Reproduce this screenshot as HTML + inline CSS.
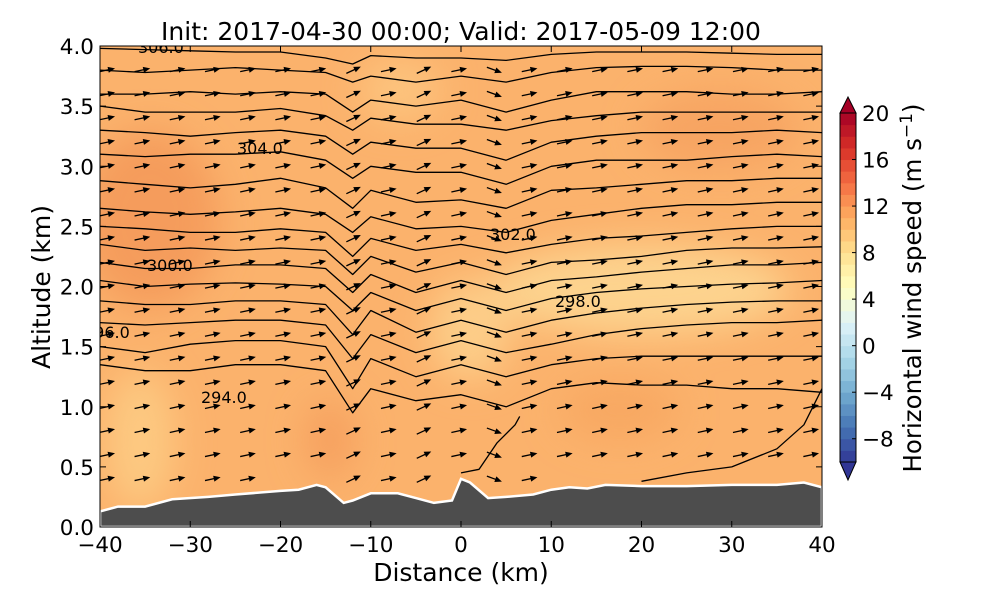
<!DOCTYPE html>
<html><head><meta charset="utf-8"><style>
body{margin:0;background:#fff;font-family:"DejaVu Sans","Liberation Sans",sans-serif}
svg text{font-family:"DejaVu Sans","Liberation Sans",sans-serif}
</style></head><body>
<svg width="1000" height="600" viewBox="0 0 1000 600" xmlns="http://www.w3.org/2000/svg">
<defs>
<clipPath id="pc"><rect x="100" y="46" width="722" height="481"/></clipPath>
<filter id="bl" x="-50%" y="-50%" width="200%" height="200%"><feGaussianBlur stdDeviation="18"/></filter>
</defs>
<g id="plot" clip-path="url(#pc)">
<rect x="100" y="46" width="722" height="481" fill="#fbb26c"/>
<g filter="url(#bl)">
<ellipse cx="150" cy="220" rx="70" ry="90" fill="#f59c5c"/>
<ellipse cx="720" cy="130" rx="80" ry="40" fill="#f7a462"/>
<ellipse cx="640" cy="290" rx="150" ry="45" fill="#fdd38e"/>
<ellipse cx="470" cy="330" rx="40" ry="50" fill="#fdcd88"/>
<ellipse cx="140" cy="440" rx="35" ry="70" fill="#fdc981"/>
<ellipse cx="330" cy="440" rx="25" ry="40" fill="#f6a05e"/>
<ellipse cx="620" cy="410" rx="60" ry="30" fill="#f8a862"/>
<ellipse cx="400" cy="90" rx="40" ry="30" fill="#fdc47e"/>
</g>
<g id="contours"></g>
<g id="arrows"></g>
<path id="terrain" fill="#4d4d4d" stroke="#fff" stroke-width="2.5"/>
<g font-size="16" fill="#000">
<text x="138" y="53">306.0</text>
<text x="237" y="154">304.0</text>
<text x="490" y="240">302.0</text>
<text x="147" y="271">300.0</text>
<text x="555" y="307">298.0</text>
<text x="84" y="338">296.0</text>
<text x="201" y="403">294.0</text>
</g>
</g>
<rect x="100" y="46" width="722" height="481" fill="none" stroke="#000" stroke-width="1"/>
<g id="axes" font-size="21.5" fill="#000"></g>
<text x="461" y="40" font-size="25" text-anchor="middle">Init: 2017-04-30 00:00; Valid: 2017-05-09 12:00</text>
<text x="461" y="581" font-size="25" text-anchor="middle">Distance (km)</text>
<text transform="translate(50,287) rotate(-90)" font-size="25" text-anchor="middle">Altitude (km)</text>
<g id="cbar"></g>
<text transform="translate(921,288) rotate(-90)" font-size="24.5" text-anchor="middle">Horizontal wind speed (m s<tspan dy="-9" font-size="17">−1</tspan><tspan dy="9">)</tspan></text>
</svg>
<script>
const NS="http://www.w3.org/2000/svg";
const xs=[-40,-35,-30,-25,-20,-15,-12,-10,-5,0,5,10,15,20,25,30,35,40];
const contourLevels=[
[3.98,3.97,3.96,3.95,3.95,3.9,3.85,3.92,3.9,3.9,3.88,3.93,3.95,3.95,3.95,3.94,3.93,3.93],
[3.8,3.78,3.8,3.82,3.8,3.78,3.7,3.75,3.7,3.75,3.7,3.78,3.82,3.83,3.83,3.82,3.8,3.8],
[3.6,3.6,3.62,3.6,3.62,3.6,3.45,3.55,3.5,3.55,3.45,3.55,3.62,3.62,3.62,3.6,3.6,3.62],
[3.5,3.45,3.45,3.45,3.48,3.42,3.3,3.4,3.35,3.35,3.3,3.38,3.42,3.45,3.45,3.45,3.45,3.45],
[3.3,3.28,3.25,3.28,3.3,3.25,3.1,3.2,3.15,3.15,3.05,3.2,3.25,3.28,3.28,3.28,3.3,3.28],
[3.1,3.08,3.1,3.1,3.12,3.05,2.9,3.0,2.95,2.95,2.85,3.0,3.05,3.05,3.05,3.08,3.1,3.08],
[2.88,2.85,2.82,2.85,2.9,2.82,2.65,2.8,2.7,2.72,2.65,2.8,2.82,2.85,2.88,2.88,2.9,2.9],
[2.65,2.62,2.6,2.62,2.65,2.6,2.45,2.58,2.48,2.5,2.45,2.55,2.6,2.65,2.68,2.68,2.7,2.7],
[2.5,2.48,2.45,2.45,2.48,2.45,2.25,2.4,2.3,2.35,2.28,2.35,2.4,2.42,2.45,2.48,2.5,2.5],
[2.35,2.3,2.32,2.3,2.32,2.3,2.1,2.25,2.12,2.2,2.1,2.2,2.22,2.25,2.3,2.32,2.32,2.33],
[2.2,2.15,2.15,2.18,2.18,2.15,1.95,2.1,1.95,2.05,1.95,2.05,2.08,2.12,2.15,2.18,2.18,2.2],
[2.05,2.0,2.02,2.03,2.02,2.0,1.8,1.95,1.8,1.9,1.8,1.9,1.95,1.98,2.0,2.02,2.03,2.05],
[1.88,1.85,1.85,1.88,1.88,1.85,1.6,1.8,1.62,1.72,1.62,1.72,1.78,1.82,1.85,1.87,1.88,1.88],
[1.7,1.68,1.7,1.72,1.72,1.68,1.4,1.6,1.45,1.55,1.45,1.52,1.6,1.65,1.68,1.7,1.7,1.72],
[1.5,1.45,1.52,1.55,1.55,1.5,1.15,1.4,1.25,1.35,1.25,1.35,1.4,1.42,1.42,1.42,1.42,1.42],
[1.35,1.3,1.3,1.35,1.35,1.3,0.95,1.15,1.05,1.1,1.0,1.15,1.2,1.18,1.18,1.15,1.15,1.12]
];
const lowContourX=[0,2,4,6,6.5];
const lowContourY=[0.45,0.48,0.7,0.85,0.92];
const lowContour2X=[20,25,30,35,38,40];
const lowContour2Y=[0.38,0.45,0.5,0.65,0.85,1.15];
const terrainX=[-40,-38,-35,-32,-28,-25,-20,-18,-16,-15,-13,-12,-10,-7,-5,-3,-1,0,1,3,5,8,10,12,14,16,20,25,30,35,38,40];
const terrainY=[0.13,0.17,0.17,0.23,0.25,0.27,0.30,0.31,0.35,0.33,0.20,0.22,0.28,0.28,0.24,0.20,0.22,0.40,0.37,0.24,0.25,0.27,0.31,0.33,0.32,0.35,0.34,0.34,0.35,0.35,0.37,0.33];
const xTicks=[-40,-30,-20,-10,0,10,20,30,40];
const yTicks=[0.0,0.5,1.0,1.5,2.0,2.5,3.0,3.5,4.0];
const cbTicks=[-8,-4,0,4,8,12,16,20];
const windSpeedMin=-10, windSpeedMax=20;

const X=v=>100+(v+40)/80*722;
const Y=v=>527-v/4*481;

const cg=document.getElementById('contours');
function line(xa,ya){
  const p=document.createElementNS(NS,'path');
  p.setAttribute('d',xa.map((x,i)=>(i?'L':'M')+X(x).toFixed(1)+','+Y(ya[i]).toFixed(1)).join(''));
  p.setAttribute('fill','none');p.setAttribute('stroke','#000');p.setAttribute('stroke-width','1.3');
  p.setAttribute('stroke-linejoin','round');
  
  
  cg.appendChild(p);
}
contourLevels.forEach(l=>line(xs,l));
line(lowContourX,lowContourY);
line(lowContour2X,lowContour2Y);

let d='M'+X(-40)+','+Y(0);
terrainX.forEach((x,i)=>d+='L'+X(x).toFixed(1)+','+Y(terrainY[i]).toFixed(1));
d+='L'+X(40)+','+Y(0)+'Z';
document.getElementById('terrain').setAttribute('d',d);

const ag=document.getElementById('arrows');
function terr(x){for(let i=1;i<terrainX.length;i++){if(x<=terrainX[i]){const t=(x-terrainX[i-1])/(terrainX[i]-terrainX[i-1]);return terrainY[i-1]+t*(terrainY[i]-terrainY[i-1]);}}return 0.33;}
for(let xi=-39.2;xi<40;xi+=3.9){
  for(let z=0.2;z<4.0;z+=0.2){
    if(z<terr(xi)+0.12)continue;
    const ang=(xi>-14&&xi<-11)||(xi>-6&&xi<-2)?-25:(xi>2&&xi<6?20:-12);
    const g=document.createElementNS(NS,'g');
    g.setAttribute('transform',`translate(${X(xi).toFixed(1)},${Y(z).toFixed(1)}) rotate(${ang})`);
    
    
    g.innerHTML='<line x1="-8" y1="0" x2="3" y2="0" stroke="#000" stroke-width="1.3"/><polygon points="8,0 1,-3 1,3" fill="#000"/>';
    ag.appendChild(g);
  }
}

const ax=document.getElementById('axes');
xTicks.forEach(t=>{
  const x=X(t);
  ax.insertAdjacentHTML('beforeend',`<line x1="${x}" y1="527" x2="${x}" y2="521" stroke="#000"/><line x1="${x}" y1="46" x2="${x}" y2="52" stroke="#000"/><text x="${x}" y="552" text-anchor="middle">${t<0?'−'+(-t):t}</text>`);
});
yTicks.forEach(t=>{
  const y=Y(t);
  ax.insertAdjacentHTML('beforeend',`<line x1="100" y1="${y}" x2="106" y2="${y}" stroke="#000"/><line x1="822" y1="${y}" x2="816" y2="${y}" stroke="#000"/><text x="94" y="${y+8}" text-anchor="end">${t.toFixed(1)}</text>`);
});

const stops=[[49,54,149],[69,117,180],[116,173,209],[171,217,233],[224,243,248],[255,255,191],[254,224,144],[253,174,97],[244,109,67],[215,48,39],[165,0,38]];
function cmap(f){f=Math.max(0,Math.min(1,f));const p=f*(stops.length-1),i=Math.min(stops.length-2,Math.floor(p)),t=p-i;return 'rgb('+stops[i].map((c,k)=>Math.round(c+t*(stops[i+1][k]-c))).join(',')+')';}
const cb=document.getElementById('cbar');
const cx=840,cw=16,cTop=113,cBot=462;
const CY=v=>cBot-(v-windSpeedMin)/(windSpeedMax-windSpeedMin)*(cBot-cTop);
for(let v=windSpeedMin;v<windSpeedMax;v++){
  cb.insertAdjacentHTML('beforeend',`<rect x="${cx}" y="${CY(v+1)}" width="${cw}" height="${CY(v)-CY(v+1)+0.5}" fill="${cmap((v+0.5-windSpeedMin)/(windSpeedMax-windSpeedMin))}"/>`);
}
cb.insertAdjacentHTML('beforeend',`<polygon points="${cx},${cTop} ${cx+cw/2},97 ${cx+cw},${cTop}" fill="#a50026" stroke="#000"/><polygon points="${cx},${cBot} ${cx+cw/2},480 ${cx+cw},${cBot}" fill="#313695" stroke="#000"/><rect x="${cx}" y="${cTop}" width="${cw}" height="${cBot-cTop}" fill="none" stroke="#000"/>`);
cbTicks.forEach(t=>{
  const y=CY(t);
  cb.insertAdjacentHTML('beforeend',`<line x1="${cx+cw-4}" y1="${y}" x2="${cx+cw}" y2="${y}" stroke="#000"/><text x="862" y="${y+8}" font-size="21.5">${t<0?'−'+(-t):t}</text>`);
});
</script>
</body></html>
